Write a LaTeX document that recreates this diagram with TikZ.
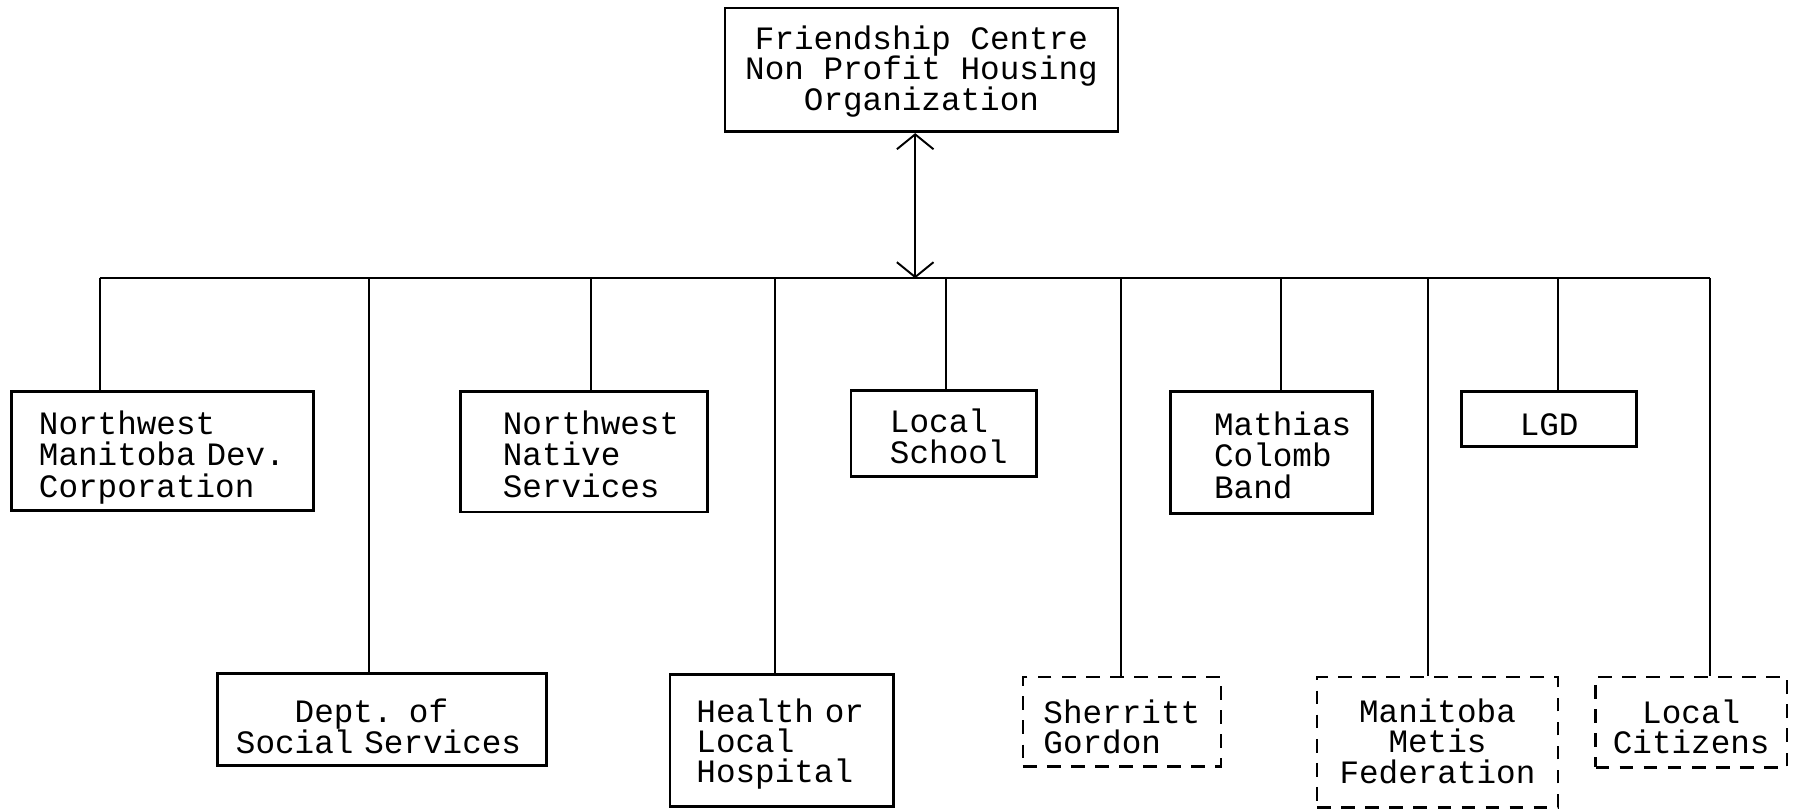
\documentclass[tikz,border=0pt]{standalone}
\usepackage{fontspec}
\setmonofont{Liberation Mono}
\usetikzlibrary{arrows.meta}
\newcommand\lnhigh[1]{\vrule height #1 width 0pt depth 0pt\relax}
\newcommand\lnlow{\vrule height 0pt width 0pt depth 8pt\relax}
\begin{document}
\lineskiplimit=-50pt
\begin{tikzpicture}[x=1pt,y=-1pt,
  box/.style={draw, line width=2.4pt, rectangle, inner ysep=0pt},
  dbox/.style={box, line width=2.2pt, dash pattern=on 12pt off 9pt},
  fs/.style={font=\fontsize{28.5}{#1}\selectfont\ttfamily},
  conn/.style={line width=1.7pt},
  barb/.style={{Straight Barb[length=13pt,width=32pt]}-{Straight Barb[length=13pt,width=32pt]}}]
\useasboundingbox (0,0) rectangle (1568,706);

% top box
\node[box, fs=26.3pt, minimum width=343pt, minimum height=108pt, align=center] (top) at (804.5,61)
  {\lnhigh{25.6pt}Friendship Centre\\Non Profit Housing\\Organization\lnlow};

% upper row
\node[box, fs=27.5pt, minimum height=104pt, text width=216pt, inner xsep=24pt, align=left] (nmdc) at (142,394)
  {\lnhigh{33pt}Northwest\\\mbox{Manitoba Dev.}\\Corporation\lnlow};
\node[box, fs=27.5pt, minimum height=105pt, text width=142pt, inner xsep=37pt, align=left] (nns) at (510,394.5)
  {\lnhigh{32pt}Northwest\\Native\\Services\lnlow};
\node[box, fs=26.6pt, minimum height=75pt, text width=94pt, inner xsep=34pt, align=left] (school) at (824,378.5)
  {\lnhigh{33.6pt}Local\\School\lnlow};
\node[box, fs=27.5pt, minimum height=106pt, text width=100pt, inner xsep=38pt, align=left] (mcb) at (1110,395)
  {\lnhigh{33pt}Mathias\\Colomb\\Band\lnlow};
\node[box, fs=27.5pt, minimum width=153pt, minimum height=48pt, align=center] (lgd) at (1352.5,366)
  {\lnhigh{36pt}LGD\lnlow};

% lower row
\node[box, fs=26.5pt, minimum height=80pt, text width=255pt, inner xsep=16pt, align=left] (dept) at (333.5,628)
  {\lnhigh{40.5pt}\hspace*{51.3pt}\mbox{Dept. of}\\\mbox{Social Services}\lnlow};
\node[box, fs=26.2pt, minimum height=115pt, text width=149pt, inner xsep=23pt, align=left] (health) at (682.5,646.5)
  {\lnhigh{28.4pt}\mbox{Health or}\\Local\\Hospital\lnlow};
\node[dbox, fs=26pt, minimum height=78pt, text width=137pt, inner xsep=18pt, align=left] (sherritt) at (979.5,630)
  {\lnhigh{37pt}Sherritt\\Gordon\lnlow};
\node[dbox, fs=26.3pt, minimum width=210pt, minimum height=114pt, align=center] (mmf) at (1255,648)
  {\lnhigh{26.6pt}Manitoba\\Metis\\Federation\lnlow};
\node[dbox, fs=26pt, minimum width=167pt, minimum height=79pt, align=center] (citizens) at (1476.5,630.5)
  {\lnhigh{36pt}Local\\Citizens\lnlow};

% bus and arrow
\coordinate (hub) at (799,243);
\coordinate (busL) at (87,243);
\coordinate (busR) at (1493,243);
\draw[conn] (busL) -- (busR);
\draw[conn, barb] (top.south -| hub) -- (hub);

% drops
\coordinate (d1) at (87,243);
\coordinate (d2) at (322,243);
\coordinate (d3) at (516,243);
\coordinate (d4) at (677,243);
\coordinate (d5) at (826,243);
\coordinate (d6) at (979,243);
\coordinate (d7) at (1118,243);
\coordinate (d8) at (1247,243);
\coordinate (d9) at (1360,243);
\coordinate (d10) at (1493,243);
\draw[conn] (d1) -- (d1 |- nmdc.north);
\draw[conn] (d2) -- (d2 |- dept.north);
\draw[conn] (d3) -- (d3 |- nns.north);
\draw[conn] (d4) -- (d4 |- health.north);
\draw[conn] (d5) -- (d5 |- school.north);
\draw[conn] (d6) -- (d6 |- sherritt.north);
\draw[conn] (d7) -- (d7 |- mcb.north);
\draw[conn] (d8) -- (d8 |- mmf.north);
\draw[conn] (d9) -- (d9 |- lgd.north);
\draw[conn] (d10) -- (d10 |- citizens.north);
\end{tikzpicture}
\end{document}
